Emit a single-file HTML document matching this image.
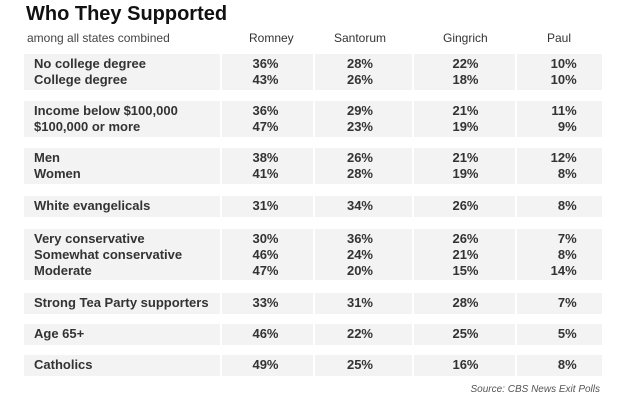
<!DOCTYPE html>
<html><head><meta charset="utf-8">
<style>
html,body{margin:0;padding:0;background:#fff;}
body{width:620px;height:400px;position:relative;overflow:hidden;font-family:"Liberation Sans",Arial,sans-serif;}
.t{position:absolute;white-space:nowrap;}
.title{left:26px;top:2px;font-size:20px;line-height:24px;font-weight:bold;color:#111;}
.sub{left:27px;top:31px;font-size:12px;line-height:14px;color:#444;}
.hd{top:31px;font-size:12px;line-height:14px;color:#333;}
.box{position:absolute;background:#f3f3f3;}
.c0{left:24px;width:196px;}
.c1{left:222px;width:91px;}
.c2{left:315px;width:97px;}
.c3{left:414px;width:101px;}
.c4{left:517px;width:85px;}
.r{position:absolute;font-size:13px;line-height:16px;font-weight:bold;color:#333;white-space:nowrap;}
.lab{left:34px;}
.v1{right:341.5px;text-align:right;}
.v2{right:247px;text-align:right;}
.v3{right:141.5px;text-align:right;}
.v4{right:43.3px;text-align:right;}
.src{right:20px;top:384px;font-size:10px;line-height:12px;font-style:italic;color:#555;}
</style></head><body>
<div class="t title">Who They Supported</div>
<div class="t sub">among all states combined</div>
<div class="t hd" style="left:249px">Romney</div>
<div class="t hd" style="left:334px">Santorum</div>
<div class="t hd" style="left:443px">Gingrich</div>
<div class="t hd" style="left:547px">Paul</div>

<!-- group 1 -->
<div class="box c0" style="top:54px;height:36px"></div>
<div class="box c1" style="top:54px;height:36px"></div>
<div class="box c2" style="top:54px;height:36px"></div>
<div class="box c3" style="top:54px;height:36px"></div>
<div class="box c4" style="top:54px;height:36px"></div>
<div class="r lab" style="top:55.5px">No college degree</div>
<div class="r v1" style="top:55.5px">36%</div>
<div class="r v2" style="top:55.5px">28%</div>
<div class="r v3" style="top:55.5px">22%</div>
<div class="r v4" style="top:55.5px">10%</div>
<div class="r lab" style="top:71.5px">College degree</div>
<div class="r v1" style="top:71.5px">43%</div>
<div class="r v2" style="top:71.5px">26%</div>
<div class="r v3" style="top:71.5px">18%</div>
<div class="r v4" style="top:71.5px">10%</div>

<!-- group 2 -->
<div class="box c0" style="top:101px;height:36px"></div>
<div class="box c1" style="top:101px;height:36px"></div>
<div class="box c2" style="top:101px;height:36px"></div>
<div class="box c3" style="top:101px;height:36px"></div>
<div class="box c4" style="top:101px;height:36px"></div>
<div class="r lab" style="top:102.5px">Income below $100,000</div>
<div class="r v1" style="top:102.5px">36%</div>
<div class="r v2" style="top:102.5px">29%</div>
<div class="r v3" style="top:102.5px">21%</div>
<div class="r v4" style="top:102.5px">11%</div>
<div class="r lab" style="top:118.5px">$100,000 or more</div>
<div class="r v1" style="top:118.5px">47%</div>
<div class="r v2" style="top:118.5px">23%</div>
<div class="r v3" style="top:118.5px">19%</div>
<div class="r v4" style="top:118.5px">9%</div>

<!-- group 3 -->
<div class="box c0" style="top:148px;height:36px"></div>
<div class="box c1" style="top:148px;height:36px"></div>
<div class="box c2" style="top:148px;height:36px"></div>
<div class="box c3" style="top:148px;height:36px"></div>
<div class="box c4" style="top:148px;height:36px"></div>
<div class="r lab" style="top:149.5px">Men</div>
<div class="r v1" style="top:149.5px">38%</div>
<div class="r v2" style="top:149.5px">26%</div>
<div class="r v3" style="top:149.5px">21%</div>
<div class="r v4" style="top:149.5px">12%</div>
<div class="r lab" style="top:165.5px">Women</div>
<div class="r v1" style="top:165.5px">41%</div>
<div class="r v2" style="top:165.5px">28%</div>
<div class="r v3" style="top:165.5px">19%</div>
<div class="r v4" style="top:165.5px">8%</div>

<!-- group 4 -->
<div class="box c0" style="top:196px;height:21px"></div>
<div class="box c1" style="top:196px;height:21px"></div>
<div class="box c2" style="top:196px;height:21px"></div>
<div class="box c3" style="top:196px;height:21px"></div>
<div class="box c4" style="top:196px;height:21px"></div>
<div class="r lab" style="top:197.5px">White evangelicals</div>
<div class="r v1" style="top:197.5px">31%</div>
<div class="r v2" style="top:197.5px">34%</div>
<div class="r v3" style="top:197.5px">26%</div>
<div class="r v4" style="top:197.5px">8%</div>

<!-- group 5 -->
<div class="box c0" style="top:229px;height:51px"></div>
<div class="box c1" style="top:229px;height:51px"></div>
<div class="box c2" style="top:229px;height:51px"></div>
<div class="box c3" style="top:229px;height:51px"></div>
<div class="box c4" style="top:229px;height:51px"></div>
<div class="r lab" style="top:230.5px">Very conservative</div>
<div class="r v1" style="top:230.5px">30%</div>
<div class="r v2" style="top:230.5px">36%</div>
<div class="r v3" style="top:230.5px">26%</div>
<div class="r v4" style="top:230.5px">7%</div>
<div class="r lab" style="top:246.5px">Somewhat conservative</div>
<div class="r v1" style="top:246.5px">46%</div>
<div class="r v2" style="top:246.5px">24%</div>
<div class="r v3" style="top:246.5px">21%</div>
<div class="r v4" style="top:246.5px">8%</div>
<div class="r lab" style="top:262.5px">Moderate</div>
<div class="r v1" style="top:262.5px">47%</div>
<div class="r v2" style="top:262.5px">20%</div>
<div class="r v3" style="top:262.5px">15%</div>
<div class="r v4" style="top:262.5px">14%</div>

<!-- group 6 -->
<div class="box c0" style="top:293px;height:21px"></div>
<div class="box c1" style="top:293px;height:21px"></div>
<div class="box c2" style="top:293px;height:21px"></div>
<div class="box c3" style="top:293px;height:21px"></div>
<div class="box c4" style="top:293px;height:21px"></div>
<div class="r lab" style="top:294.5px">Strong Tea Party supporters</div>
<div class="r v1" style="top:294.5px">33%</div>
<div class="r v2" style="top:294.5px">31%</div>
<div class="r v3" style="top:294.5px">28%</div>
<div class="r v4" style="top:294.5px">7%</div>

<!-- group 7 -->
<div class="box c0" style="top:324px;height:21px"></div>
<div class="box c1" style="top:324px;height:21px"></div>
<div class="box c2" style="top:324px;height:21px"></div>
<div class="box c3" style="top:324px;height:21px"></div>
<div class="box c4" style="top:324px;height:21px"></div>
<div class="r lab" style="top:325.5px">Age 65+</div>
<div class="r v1" style="top:325.5px">46%</div>
<div class="r v2" style="top:325.5px">22%</div>
<div class="r v3" style="top:325.5px">25%</div>
<div class="r v4" style="top:325.5px">5%</div>

<!-- group 8 -->
<div class="box c0" style="top:355px;height:21px"></div>
<div class="box c1" style="top:355px;height:21px"></div>
<div class="box c2" style="top:355px;height:21px"></div>
<div class="box c3" style="top:355px;height:21px"></div>
<div class="box c4" style="top:355px;height:21px"></div>
<div class="r lab" style="top:356.5px">Catholics</div>
<div class="r v1" style="top:356.5px">49%</div>
<div class="r v2" style="top:356.5px">25%</div>
<div class="r v3" style="top:356.5px">16%</div>
<div class="r v4" style="top:356.5px">8%</div>

<div class="t src">Source: CBS News Exit Polls</div>
</body></html>
